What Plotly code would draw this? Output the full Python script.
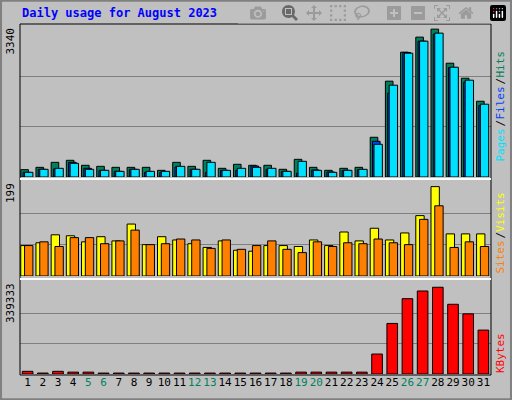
import plotly.graph_objects as go

days = list(range(1, 32))
hits = [163, 215, 326, 371, 260, 237, 215, 215, 215, 148, 326, 237, 371, 193, 282, 260, 260, 171, 393, 215,
        148, 193, 215, 883, 2130, 2775, 3109, 3287, 2530, 2196, 1684]
files = [104, 171, 178, 326, 193, 148, 126, 171, 104, 104, 223, 171, 104, 148, 148, 245, 171, 126, 82, 156,
         111, 148, 163, 794, 1862, 2768, 3020, 3176, 2434, 2107, 1588]
pages = [104, 171, 193, 304, 171, 148, 126, 171, 126, 126, 237, 171, 326, 148, 193, 215, 193, 126, 349, 148,
         104, 148, 171, 727, 2041, 2753, 3020, 3198, 2441, 2152, 1618]
visits = [65, 71, 88, 86, 73, 84, 75, 111, 67, 84, 77, 69, 61, 75, 55, 53, 65, 65, 63, 77,
          65, 94, 75, 102, 77, 92, 129, 191, 90, 90, 90]
sites = [65, 73, 63, 82, 82, 69, 75, 98, 67, 69, 79, 77, 59, 77, 57, 65, 75, 57, 50, 73,
         63, 71, 69, 79, 71, 67, 121, 150, 61, 73, 63]
kbytes = [10000, 3500, 10000, 7000, 7000, 3500, 3500, 3500, 3500, 3500, 3500, 3500, 3500, 3500, 3500, 3500,
          3500, 3500, 7000, 7000, 7000, 7000, 7000, 75000, 190000, 283000, 312000, 326000, 262000, 226000, 165000]
weekends = [5, 6, 12, 13, 19, 20, 26, 27]
max_hits, max_visits, max_kb = 3340, 199, 339333

FONT = "DejaVu Sans Mono"
line = dict(color="black", width=1)

fig = go.Figure()

def bar(y, color, off, w, ax):
    fig.add_trace(go.Bar(x=days, y=y, marker=dict(color=color, line=line), offset=off, width=w,
                         xaxis="x", yaxis=ax, showlegend=False, hoverinfo="x+y"))

bar(hits, "#00805C", -0.45, 0.5, "y")
bar(files, "#0040FF", -0.3, 0.5, "y")
bar(pages, "#00E0FF", -0.2, 0.55, "y")
bar(visits, "#FFFF00", -0.45, 0.55, "y2")
bar(sites, "#FF8000", -0.2, 0.55, "y2")
bar(kbytes, "#FF0000", -0.35, 0.7, "y3")

def ydom(top, bottom):
    return [1 - bottom / 400, 1 - top / 400]

yax = dict(showticklabels=False, gridcolor="#808080", zeroline=False, fixedrange=True)
fig.update_layout(
    width=512, height=400, margin=dict(l=0, r=0, t=0, b=0),
    paper_bgcolor="#C0C0C0", plot_bgcolor="#C0C0C0", barmode="overlay",
    font=dict(family=FONT, size=11, color="black"),
    xaxis=dict(domain=[20 / 512, 491 / 512], range=[0.5, 31.5], tickvals=days, tickangle=0,
               ticktext=[f"<span style='color:{'#00805C' if d in weekends else 'black'}'>{d}</span>" for d in days],
               showgrid=False, ticks="", anchor="y3", tickfont=dict(size=11)),
    yaxis=dict(domain=ydom(26, 177), range=[0, max_hits * 1.005], tickvals=[max_hits / 3, max_hits * 2 / 3], **yax),
    yaxis2=dict(domain=ydom(181, 276), range=[0, max_visits * 1.02], tickvals=[max_visits / 3, max_visits * 2 / 3], **yax),
    yaxis3=dict(domain=ydom(281, 374), range=[0, max_kb * 1.03], tickvals=[max_kb / 3, max_kb * 2 / 3], **yax),
)

# frame and panel borders
shapes = [
    dict(type="rect", xref="paper", yref="paper", x0=0.002, y0=0.002, x1=0.998, y1=0.998,
         line=dict(color="#808080", width=2)),
    dict(type="rect", xref="paper", yref="paper", x0=20 / 512, x1=491 / 512, y0=1 - 375 / 400, y1=1 - 24 / 400,
         line=dict(color="black", width=1)),
]
for py in (179, 279):
    shapes.append(dict(type="line", xref="paper", yref="paper", x0=20 / 512, x1=491 / 512,
                       y0=1 - py / 400, y1=1 - py / 400, line=dict(color="white", width=2)))
fig.update_layout(shapes=shapes)

ann = [dict(text="<b>Daily usage for August 2023</b>", x=20 / 512, y=1 - 4 / 400, xanchor="left", yanchor="top",
            font=dict(color="#0000FF", size=12))]
for lbl, py in (("3340", 26), ("199", 181), ("339333", 281)):
    ann.append(dict(text=lbl, x=10 / 512, y=1 - py / 400, textangle=-90, xanchor="center", yanchor="top",
                    font=dict(size=11)))

def side(parts, bottom_px):
    y = bottom_px
    for txt, col in parts:
        h = len(txt) * 7
        ann.append(dict(text=txt, x=500 / 512, y=1 - y / 400, textangle=-90, xanchor="center", yanchor="bottom",
                        font=dict(color=col, size=11)))
        y -= h

side([("Pages", "#00E0FF"), ("/", "black"), ("Files", "#0040FF"), ("/", "black"), ("Hits", "#00805C")], 164)
side([("Sites", "#FF8000"), ("/", "black"), ("Visits", "#FFFF00")], 276)
side([("KBytes", "#FF0000")], 375)
for a in ann:
    a.update(xref="paper", yref="paper", showarrow=False)
fig.update_layout(annotations=ann)

fig.write_html("out.html", post_script="document.body.style.margin='0';")
